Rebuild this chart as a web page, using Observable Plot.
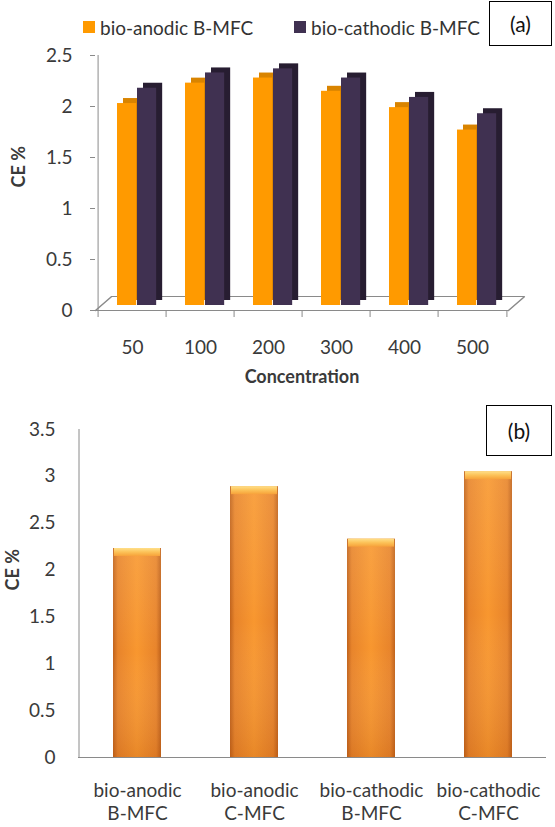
<!DOCTYPE html>
<html><head><meta charset="utf-8">
<script src="https://cdn.jsdelivr.net/npm/d3@7"></script>
<script src="https://cdn.jsdelivr.net/npm/@observablehq/plot@0.6"></script>
<style>
body{margin:0;background:#fff;font-family:Lato,sans-serif;}
#wrap{position:relative;width:555px;height:827px;overflow:hidden;background:#fff;}
.box{position:absolute;border:1.5px solid #000;box-sizing:border-box;display:flex;align-items:center;justify-content:center;font-size:21px;color:#111;font-family:Lato,sans-serif;}
.leg{position:absolute;top:0;height:54px;display:flex;align-items:center;font-size:19px;color:#333;white-space:nowrap;}
.sw{width:12px;height:12px;display:inline-block;margin-right:5px;}
.panel{position:absolute;left:0;}
</style></head><body>
<div id="wrap"></div>
<script>
// ---- data: panel (a)
const concentrations = ["50", "100", "200", "300", "400", "500"];
const seriesNames = ["bio-anodic B-MFC", "bio-cathodic B-MFC"];
const seriesColors = ["#ff9a00", "#403151"];
const anodicB = [1.98, 2.18, 2.23, 2.10, 1.94, 1.72];
const cathodicB = [2.13, 2.28, 2.32, 2.23, 2.04, 1.88];
const yTicksA = [0, 0.5, 1, 1.5, 2, 2.5];
// ---- data: panel (b)
const mfcTypes = ["bio-anodic\nB-MFC", "bio-anodic\nC-MFC", "bio-cathodic\nB-MFC", "bio-cathodic\nC-MFC"];
const ceValues = [2.23, 2.89, 2.33, 3.05];
const yTicksB = [0, 0.5, 1, 1.5, 2, 2.5, 3, 3.5];

const wrap = document.getElementById("wrap");
const gray = "#8a8a8a";
const txt = "#3a3a3a";
const fmt = d => `${d}`;
const lineShape = {draw(ctx, l) { ctx.moveTo(0, 0); ctx.lineTo(0, -l); }};

// legend (a)
const legLefts = [83, 294];
seriesNames.forEach((n, i) => {
  const d = document.createElement("div");
  d.className = "leg";
  d.style.left = legLefts[i] + "px";
  d.innerHTML = `<span class="sw" style="background:${seriesColors[i]}"></span>${n}`;
  wrap.appendChild(d);
});
function box(label, left, top, w, h) {
  const b = document.createElement("div");
  b.className = "box";
  Object.assign(b.style, {left: left + "px", top: top + "px", width: w + "px", height: h + "px"});
  b.textContent = label;
  wrap.appendChild(b);
}

// ---- panel (a)
const mLA = 95, mRA = 47;
const bw = (555 - mLA - mRA) / concentrations.length;
const dataA = concentrations.map((c, i) => ({conc: c, anodic: anodicB[i], cathodic: cathodicB[i]}));
const oL = 19, oW = 20, pW = 20, depth = 6;
const plotA = Plot.plot({
  width: 555, height: 355,
  marginTop: 15, marginBottom: 85, marginLeft: mLA, marginRight: mRA,
  style: {fontFamily: "Lato, sans-serif", fontSize: "19px", color: txt, background: "transparent"},
  x: {domain: concentrations, padding: 0, axis: null},
  y: {domain: [0, 2.5], axis: null},
  marks: [
    Plot.ruleY([0], {stroke: gray}),
    Plot.ruleY([0], {stroke: gray, dx: 16, dy: -14}),
    Plot.vector([0], {frameAnchor: "bottom-left", anchor: "start", length: 21, rotate: 49, shape: lineShape, stroke: gray}),
    Plot.vector([0], {frameAnchor: "bottom-right", anchor: "start", length: 21, rotate: 49, shape: lineShape, stroke: gray}),
    Plot.ruleX([concentrations[0]], {dx: -bw / 2, y1: 0, y2: 2.5, stroke: gray}),
    Plot.axisY(yTicksA, {label: null, tickSize: 5, tickPadding: 18, tickFormat: fmt, stroke: gray, fill: txt}),
    Plot.axisX({label: null, tickSize: 7, tickFormat: () => "", dx: -bw / 2, stroke: gray}),
    Plot.axisX([concentrations[concentrations.length - 1]], {label: null, tickSize: 7, tickFormat: () => "", dx: bw / 2, stroke: gray}),
    Plot.axisX({label: null, tickSize: 0, tickPadding: 30, fill: txt}),
    // back copies (top caps / side faces)
    Plot.barY(dataA, {x: "conc", y: "anodic", fill: "#d98400", insetLeft: oL, insetRight: bw - oL - oW, dx: depth, dy: -10}),
    Plot.barY(dataA, {x: "conc", y: "cathodic", fill: "#271d31", insetLeft: oL + oW, insetRight: bw - oL - oW - pW, dx: depth, dy: -10}),
    // front faces
    Plot.barY(dataA, {x: "conc", y: "anodic", fill: seriesColors[0], insetLeft: oL, insetRight: bw - oL - oW, dy: -5}),
    Plot.barY(dataA, {x: "conc", y: "cathodic", fill: seriesColors[1], insetLeft: oL + oW, insetRight: bw - oL - oW - pW, dy: -5}),
    Plot.text(["Concentration"], {text: d => d, frameAnchor: "bottom", dy: 72, fontWeight: "bold", fontSize: 18, fill: txt}),
    Plot.text(["CE %"], {text: d => d, frameAnchor: "left", rotate: -90, dx: -76, dy: 4.5, fontWeight: "bold", fontSize: 18, fill: txt})
  ]
});
plotA.classList.add("panel");
plotA.style.top = "40px";
wrap.appendChild(plotA);
box("(a)", 489, 1, 63, 45);

// ---- panel (b)
function defsMark() {
  const defs = d3.create("svg:defs");
  const grad = (id, vertical, stops) => {
    const g = defs.append("linearGradient").attr("id", id)
      .attr("x1", 0).attr("y1", 0).attr("x2", vertical ? 0 : 1).attr("y2", vertical ? 1 : 0);
    stops.forEach(([o, c, op]) => g.append("stop").attr("offset", o).attr("stop-color", c).attr("stop-opacity", op ?? 1));
  };
  grad("gBody", false, [[0, "#c0621b"], [0.1, "#e8842b"], [0.5, "#f8972f"], [0.9, "#e8842b"], [1, "#c0621b"]]);
  grad("gShade", true, [[0, "#fff3d0", 0.12], [0.5, "#ffffff", 0], [1, "#a04000", 0.18]]);
  grad("gCap", true, [[0, "#ffe08a"], [0.5, "#fcc258"], [1, "#f7a23a"]]);
  return defs.node();
}
const dataB = mfcTypes.map((t, i) => ({type: t, ce: ceValues[i]}));
const plotB = Plot.plot({
  width: 555, height: 432,
  marginTop: 34, marginBottom: 70, marginLeft: 78, marginRight: 9,
  style: {fontFamily: "Lato, sans-serif", fontSize: "19px", color: txt, background: "transparent"},
  x: {domain: mfcTypes, paddingInner: 0.59, paddingOuter: 0.295, axis: null},
  y: {domain: [0, 3.5], axis: null},
  marks: [
    defsMark,
    Plot.ruleY([0], {stroke: gray}),
    Plot.ruleX([mfcTypes[0]], {dx: -58.5, stroke: gray}),
    Plot.axisY(yTicksB, {label: null, tickSize: 0, tickPadding: 23, tickFormat: fmt, fill: txt}),
    Plot.text(mfcTypes, {x: d => d, text: d => d, frameAnchor: "bottom", lineAnchor: "top", dy: 23, lineHeight: 1.22, fill: txt}),
    Plot.barY(dataB, {x: "type", y: "ce", fill: "url(#gBody)"}),
    Plot.barY(dataB, {x: "type", y: "ce", fill: "url(#gShade)"}),
    Plot.barY(dataB, {x: "type", y1: "ce", y2: "ce", insetBottom: -8, insetLeft: 1, insetRight: 1, fill: "url(#gCap)"}),
    Plot.text(["CE %"], {text: d => d, frameAnchor: "left", rotate: -90, dx: -65, dy: -3, fontWeight: "bold", fontSize: 18, fill: txt})
  ]
});
plotB.classList.add("panel");
plotB.style.top = "395px";
wrap.appendChild(plotB);
box("(b)", 486, 405, 66, 51);
</script>
</body></html>
